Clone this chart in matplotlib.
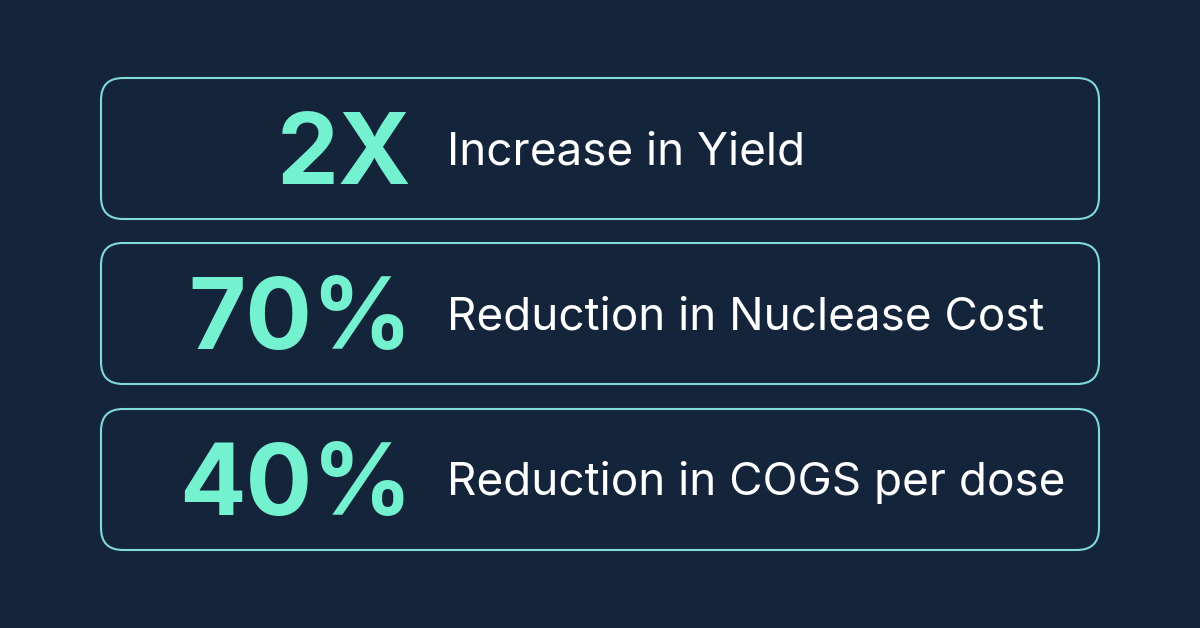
import matplotlib
matplotlib.use('Agg')
import matplotlib.pyplot as plt
from matplotlib.patches import FancyBboxPatch

# data
values = ['2X', '70%', '40%']
labels = ['Increase in Yield', 'Reduction in Nuclease Cost', 'Reduction in COGS per dose']

# styles
bg = '#13243b'
accent = '#74f2cf'
border = '#7fdad8'

fig = plt.figure(figsize=(12, 6.28), dpi=100)
fig.patch.set_facecolor(bg)
ax = fig.add_axes([0, 0, 1, 1])
ax.set_facecolor(bg)
ax.set_xlim(0, 1200)
ax.set_ylim(628, 0)
ax.axis('off')

box_x, box_w, box_h = 101, 998, 141
box_tops = [78, 243, 409]

for top, val, lab in zip(box_tops, values, labels):
    box = FancyBboxPatch((box_x + 22, top + 22), box_w - 44, box_h - 44,
                         boxstyle='round,pad=22', fc='none', ec=border, lw=1.5)
    ax.add_patch(box)
    cy = top + box_h / 2
    ax.text(412, cy + 35, val, ha='right', va='baseline', color=accent,
            fontsize=71, fontweight='bold', family='Inter')
    ax.text(447, cy + 16, lab, ha='left', va='baseline', color='white',
            fontsize=33, family='Inter')

fig.savefig('out.png', dpi=100, facecolor=bg)
